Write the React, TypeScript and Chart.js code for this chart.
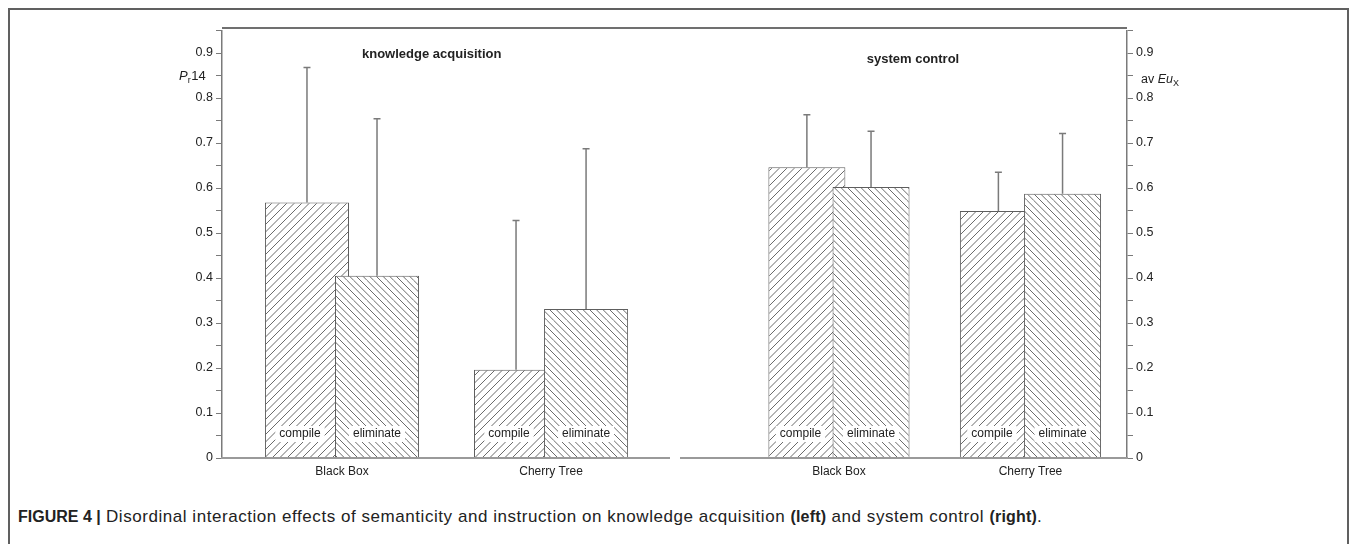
import React, { useEffect, useRef } from 'react';
import { Chart, registerables } from 'chart.js';

Chart.register(...registerables);

// ---------- data ----------
const categories = ['Black Box', 'Cherry Tree'];
const groups = ['compile', 'eliminate'];
const yTickLabels = ['0', '0.1', '0.2', '0.3', '0.4', '0.5', '0.6', '0.7', '0.8', '0.9'];

// knowledge acquisition (left panel): means and mean + SD
const knowledgeCompile = [0.568, 0.196];
const knowledgeEliminate = [0.405, 0.331];
const knowledgeCompileUpper = [0.868, 0.528];
const knowledgeEliminateUpper = [0.754, 0.687];

// system control (right panel): means and mean + SD
const controlCompile = [0.646, 0.549];
const controlEliminate = [0.602, 0.587];
const controlCompileUpper = [0.763, 0.635];
const controlEliminateUpper = [0.726, 0.721];

const FONT = '"Liberation Sans", Arial, Helvetica, sans-serif';
Chart.defaults.font.family = FONT;

function hatch(ctx: CanvasRenderingContext2D, dir: 1 | -1, tile: number, n: number) {
  const c = document.createElement('canvas');
  c.width = tile;
  c.height = tile;
  const g = c.getContext('2d')!;
  g.fillStyle = '#ffffff';
  g.fillRect(0, 0, tile, tile);
  g.strokeStyle = '#5a5a5a';
  g.lineWidth = 0.9;
  const d = tile / n;
  g.beginPath();
  for (let k = -2 * n; k <= 3 * n; k++) {
    const c0 = k * d;
    if (dir === 1) {
      g.moveTo(c0, 0);
      g.lineTo(c0 - tile, tile);
    } else {
      g.moveTo(c0, 0);
      g.lineTo(c0 + tile, tile);
    }
  }
  g.stroke();
  return ctx.createPattern(c, 'repeat')!;
}

type PanelCfg = {
  side: 'left' | 'right';
  compile: number[];
  eliminate: number[];
  compileUpper: number[];
  eliminateUpper: number[];
  xMin: number;
  xMax: number;
  yAxisWidth: number;
  pageLeft: number;
  pageTop: number;
  decorate: (ctx: CanvasRenderingContext2D, ox: number, oy: number) => void;
};

function buildPanel(canvas: HTMLCanvasElement, cfg: PanelCfg) {
  const ctx = canvas.getContext('2d')!;
  const compilePattern = hatch(ctx, 1, 15, 2);
  const eliminatePattern = hatch(ctx, -1, 20, 3);
  const uppers = [cfg.compileUpper, cfg.eliminateUpper];

  const panelPlugin = {
    id: 'panelPlugin',
    beforeDatasetsDraw(chart: any) {
      const c: CanvasRenderingContext2D = chart.ctx;
      const ys = chart.scales.y;
      // error bars
      c.save();
      c.strokeStyle = '#7a7a7a';
      c.lineWidth = 1.5;
      chart.data.datasets.forEach((ds: any, di: number) => {
        const meta = chart.getDatasetMeta(di);
        meta.data.forEach((bar: any, i: number) => {
          const x = bar.x;
          const yTop = ys.getPixelForValue(uppers[di][i]);
          const yBase = ys.getPixelForValue(ds.data[i].y);
          c.beginPath();
          c.moveTo(x, yBase);
          c.lineTo(x, yTop);
          c.moveTo(x - 3.5, yTop);
          c.lineTo(x + 3.5, yTop);
          c.stroke();
        });
      });
      c.restore();
      // bars: compile first, eliminate on top
      chart.data.datasets.forEach((_: any, di: number) => {
        chart.getDatasetMeta(di).controller.draw();
      });
      // in-bar labels
      const m0 = chart.getDatasetMeta(0);
      const m1 = chart.getDatasetMeta(1);
      const cy = ys.getPixelForValue(0) - 24;
      c.save();
      c.font = '12px ' + FONT;
      c.textAlign = 'center';
      c.textBaseline = 'middle';
      categories.forEach((_, i) => {
        const b0 = m0.data[i];
        const b1 = m1.data[i];
        const left0 = b0.x - b0.width / 2;
        const left1 = b1.x - b1.width / 2;
        const spots = [
          { text: groups[0], x: (left0 + left1) / 2 },
          { text: groups[1], x: b1.x },
        ];
        spots.forEach((s) => {
          const w = c.measureText(s.text).width;
          c.fillStyle = '#ffffff';
          c.fillRect(s.x - w / 2 - 4, cy - 8, w + 8, 16);
          c.fillStyle = '#222222';
          c.fillText(s.text, s.x, cy);
        });
      });
      c.restore();
      return false;
    },
    afterDraw(chart: any) {
      cfg.decorate(chart.ctx, cfg.pageLeft, cfg.pageTop);
    },
  };

  const toPoints = (vals: number[]) => vals.map((v, i) => ({ x: i, y: v }));

  return new Chart(canvas, {
    type: 'bar',
    data: {
      datasets: [
        {
          label: groups[0],
          data: toPoints(cfg.compile),
          backgroundColor: compilePattern,
          borderColor: '#5e5e5e',
          borderWidth: 1,
          borderSkipped: 'start',
          categoryPercentage: 0.67,
          barPercentage: 1.2,
        },
        {
          label: groups[1],
          data: toPoints(cfg.eliminate),
          backgroundColor: eliminatePattern,
          borderColor: '#5e5e5e',
          borderWidth: 1,
          borderSkipped: 'start',
          categoryPercentage: 0.67,
          barPercentage: 1.2,
        },
      ] as any,
    },
    options: {
      responsive: false,
      animation: false,
      events: [],
      layout: { padding: { top: 8, left: 0, right: 0, bottom: 0 } },
      plugins: { legend: { display: false }, tooltip: { enabled: false }, title: { display: false } },
      scales: {
        x: {
          type: 'linear',
          min: cfg.xMin,
          max: cfg.xMax,
          offset: false,
          afterBuildTicks: (s: any) => {
            s.ticks = categories.map((_, i) => ({ value: i }));
          },
          afterFit: (s: any) => {
            s.height = 32;
          },
          ticks: {
            autoSkip: false,
            maxRotation: 0,
            padding: 6,
            color: '#222',
            font: { size: 12 },
            callback: (v: any) => categories[Math.round(Number(v))] ?? '',
          },
          grid: { display: false, drawTicks: false },
          border: { display: true, color: '#9a9a9a', width: 2, z: 1 },
        },
        y: {
          type: 'linear',
          position: cfg.side,
          min: 0,
          max: 0.95,
          afterFit: (s: any) => {
            s.width = cfg.yAxisWidth;
          },
          ticks: {
            stepSize: 0.05,
            autoSkip: false,
            padding: 3,
            color: '#222',
            font: { size: 12.5 },
            callback: (v: any) => {
              const idx = Math.round(Number(v) * 100);
              return idx % 10 === 0 ? yTickLabels[idx / 10] : '';
            },
          },
          grid: { display: true, drawOnChartArea: false, drawTicks: true, tickLength: 6, color: '#7a7a7a', lineWidth: 1 },
          border: { display: true, color: '#7a7a7a', width: 1.5 },
        },
      } as any,
    },
    plugins: [panelPlugin as any],
  });
}

export default function App() {
  const leftRef = useRef<HTMLCanvasElement>(null);
  const rightRef = useRef<HTMLCanvasElement>(null);

  useEffect(() => {
    const left = buildPanel(leftRef.current!, {
      side: 'left',
      compile: knowledgeCompile,
      eliminate: knowledgeEliminate,
      compileUpper: knowledgeCompileUpper,
      eliminateUpper: knowledgeEliminateUpper,
      xMin: -0.574,
      xMax: 1.569,
      yAxisWidth: 82,
      pageLeft: 140,
      pageTop: 20,
      decorate: (c, ox, oy) => {
        c.save();
        c.fillStyle = '#222';
        c.textBaseline = 'alphabetic';
        c.textAlign = 'left';
        c.font = 'italic 13px ' + FONT;
        let x = 179 - ox;
        const by = 80 - oy;
        c.fillText('P', x, by);
        x += c.measureText('P').width;
        c.font = '9px ' + FONT;
        c.fillText('r', x, by + 3);
        x += c.measureText('r').width + 0.5;
        c.font = '13px ' + FONT;
        c.fillText('14', x, by);
        c.font = 'bold 13px ' + FONT;
        c.fillText('knowledge acquisition', 362 - ox, 58 - oy);
        c.textAlign = 'center';
        c.restore();
      },
    });
    const right = buildPanel(rightRef.current!, {
      side: 'right',
      compile: controlCompile,
      eliminate: controlEliminate,
      compileUpper: controlCompileUpper,
      eliminateUpper: controlEliminateUpper,
      xMin: -0.83,
      xMax: 1.504,
      yAxisWidth: 93,
      pageLeft: 680,
      pageTop: 20,
      decorate: (c, ox, oy) => {
        c.save();
        c.fillStyle = '#222';
        c.textBaseline = 'alphabetic';
        c.textAlign = 'left';
        let x = 1141 - ox;
        const by = 83 - oy;
        c.font = '12.5px ' + FONT;
        c.fillText('av ', x, by);
        x += c.measureText('av ').width;
        c.font = 'italic 12.5px ' + FONT;
        c.fillText('Eu', x, by);
        x += c.measureText('Eu').width;
        c.font = '9px ' + FONT;
        c.fillText('X', x, by + 3);
        c.font = 'bold 13px ' + FONT;
        c.textAlign = 'center';
        c.fillText('system control', 913 - ox, 63 - oy);
        c.restore();
      },
    });
    return () => {
      left.destroy();
      right.destroy();
    };
  }, []);

  return (
    <div
      style={{
        position: 'absolute',
        left: 0,
        top: 0,
        width: 1357,
        height: 544,
        overflow: 'hidden',
        background: '#fff',
        fontFamily: FONT,
      }}
    >
      <div
        style={{
          position: 'absolute',
          left: 8,
          top: 8,
          width: 1337,
          height: 600,
          border: '2px solid #606060',
        }}
      />
      <div
        style={{
          position: 'absolute',
          left: 222,
          top: 27,
          width: 905,
          height: 0,
          borderTop: '2px solid #707070',
        }}
      />
      <canvas
        ref={leftRef}
        width={530}
        height={470}
        style={{ position: 'absolute', left: 140, top: 20, width: 530, height: 470 }}
      />
      <canvas
        ref={rightRef}
        width={540}
        height={470}
        style={{ position: 'absolute', left: 680, top: 20, width: 540, height: 470 }}
      />
      <div
        style={{
          position: 'absolute',
          left: 18,
          top: 507,
          fontSize: 17,
          letterSpacing: '0.55px',
          lineHeight: '20px',
          color: '#222',
          whiteSpace: 'nowrap',
        }}
      >
        <b style={{ fontSize: 16, letterSpacing: 0 }}>FIGURE 4 |</b> Disordinal interaction effects of semanticity and
        instruction on knowledge acquisition <b style={{ fontSize: 16, letterSpacing: '0.2px' }}>(left)</b> and system
        control <b style={{ fontSize: 16, letterSpacing: '0.2px' }}>(right)</b>.
      </div>
    </div>
  );
}
